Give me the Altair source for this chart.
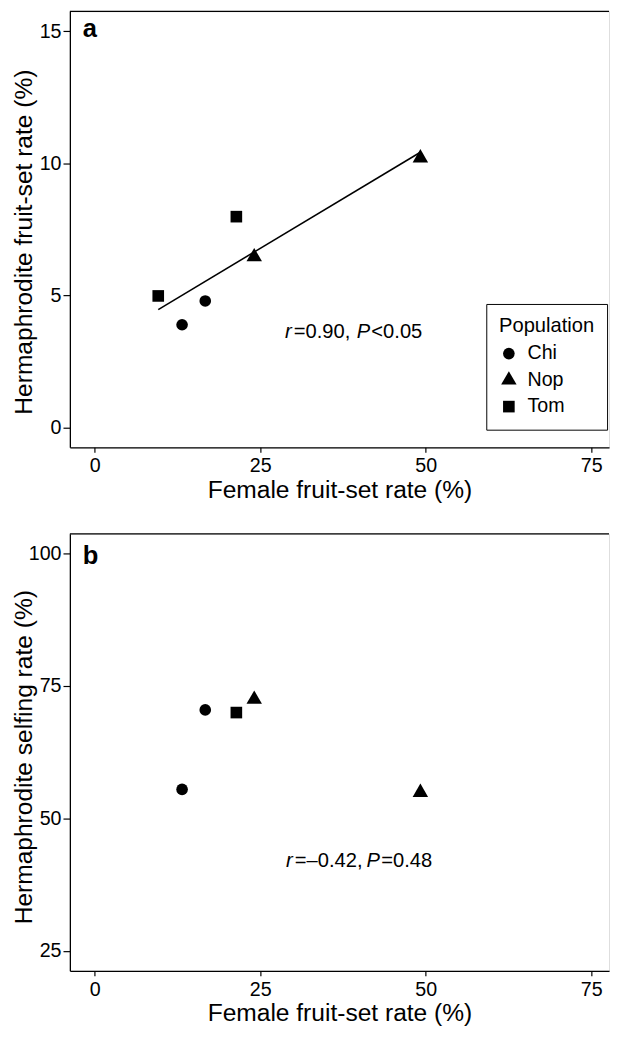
import altair as alt
import pandas as pd

# ---- data ----
pop_a = ["Chi", "Chi", "Nop", "Nop", "Tom", "Tom"]
female_a = [13.2, 16.7, 24.1, 49.2, 9.6, 21.4]
herm_fruit_a = [3.89, 4.79, 6.46, 10.2, 4.98, 7.98]

pop_b = ["Chi", "Chi", "Nop", "Nop", "Tom"]
female_b = [13.2, 16.7, 24.1, 49.2, 21.4]
herm_selfing_b = [55.5, 70.5, 72.5, 54.9, 70.0]

populations = ["Chi", "Nop", "Tom"]
x_ticks = [0, 25, 50, 75]
ya_ticks = [0, 5, 10, 15]
yb_ticks = [25, 50, 75, 100]

ann_a = ["r", "=0.90,", "P", "<0.05"]
ann_b = ["r", "=\u20130.42,", "P", "=0.48"]

df_a = pd.DataFrame({"pop": pop_a, "female": female_a, "herm": herm_fruit_a})
df_b = pd.DataFrame({"pop": pop_b, "female": female_b, "herm": herm_selfing_b})
one = pd.DataFrame({"k": [0]})

FONT = "Liberation Sans"
W = 549
HA = 444
HB = 445
XDOM = [-3.75, 77.7]

TRI = "M0,-1.54L1.33,0.77L-1.33,0.77Z"
shape_scale = alt.Scale(domain=populations, range=["circle", TRI, "square"])

axis_common = dict(
    grid=False, domainColor="black", domainWidth=1.3, tickColor="black",
    tickWidth=1.2, labelColor="black", titleColor="black",
    labelFontSize=20, titleFontSize=25, titleFontWeight="normal",
    labelFont=FONT, titleFont=FONT,
)

x_axis = alt.Axis(values=x_ticks, tickSize=5, labelPadding=4,
                  titleBaseline="alphabetic", titleY=51, format="d",
                  **axis_common)


def y_axis(ticks, title_y):
    return alt.Axis(values=ticks, tickSize=7, labelPadding=2, titleAngle=-90,
                    titleBaseline="alphabetic", titleX=-39, titleY=title_y,
                    titleAlign="center", format="d", **axis_common)


def panel(df, ydom, yticks, ytitle, title_y, letter, letter_y,
          ann, ann_x, ann_y, legend):
    xenc = alt.X("female:Q", title="Female fruit-set rate (%)",
                 scale=alt.Scale(domain=XDOM, nice=False, zero=False),
                 axis=x_axis)
    yenc = alt.Y("herm:Q", title=ytitle,
                 scale=alt.Scale(domain=ydom, nice=False, zero=False),
                 axis=y_axis(yticks, title_y))
    pts = alt.Chart(df).mark_point(filled=True, opacity=1, size=140,
                                   strokeWidth=0).encode(
        x=xenc, y=yenc,
        shape=alt.Shape("pop:N", scale=shape_scale, legend=legend),
        color=alt.value("black"),
    )
    top = alt.Chart(one).mark_rule(color="black", strokeWidth=1.3).encode(
        x=alt.value(0), x2=alt.value(W), y=alt.value(0))
    let = alt.Chart(one).mark_text(fontSize=26, fontWeight="bold", font=FONT,
                                   align="left", baseline="alphabetic",
                                   color="black").encode(
        x=alt.value(13), y=alt.value(letter_y), text=alt.value(letter))
    texts = []
    for i, (t, ox) in enumerate(zip(ann, ann_x)):
        texts.append(alt.Chart(one).mark_text(
            fontSize=20.5, font=FONT, align="left", baseline="alphabetic",
            fontStyle="italic" if i % 2 == 0 else "normal", color="black"
        ).encode(x=alt.value(ox), y=alt.value(ann_y), text=alt.value(t)))
    return [pts, top, let] + texts


legend_a = alt.Legend(title="Population", orient="none", legendX=424,
                      legendY=298, strokeColor="black",
                      padding=13, titleFontSize=20.5, labelFontSize=20,
                      titleFont=FONT, labelFont=FONT, titleColor="black",
                      labelColor="black", titleFontWeight="normal",
                      symbolSize=140, symbolFillColor="black",
                      symbolStrokeWidth=0, rowPadding=7, titlePadding=7,
                      labelOffset=9, fillColor="white")

layers_a = panel(
    df_a, [-0.75, 15.75], ya_ticks, "Hermaphrodite fruit-set rate (%)",
    234.5, "a", 26, ann_a, [219, 228, 292, 307], 333, legend_a)

line_a = alt.Chart(df_a).transform_regression("female", "herm").mark_line(
    color="black", strokeWidth=1.6).encode(
    x=alt.X("female:Q"), y=alt.Y("herm:Q"))

panel_a = alt.layer(line_a, *layers_a).properties(width=W, height=HA)

layers_b = panel(
    df_b, [21.25, 103.75], yb_ticks, "Hermaphrodite selfing rate (%)",
    227, "b", 31, ann_b, [220, 229, 302, 317], 339, None)

panel_b = alt.layer(*layers_b).properties(width=W, height=HB)

chart = alt.vconcat(panel_a, panel_b, spacing=29).resolve_scale(
    shape="independent").configure_view(stroke=None).configure_legend(
    strokeWidth=1.2).configure(
    font=FONT).properties(padding={"left": 3, "top": -8, "right": 0, "bottom": 0})

chart.save("out.html", embed_options={"renderer": "svg", "actions": False})
